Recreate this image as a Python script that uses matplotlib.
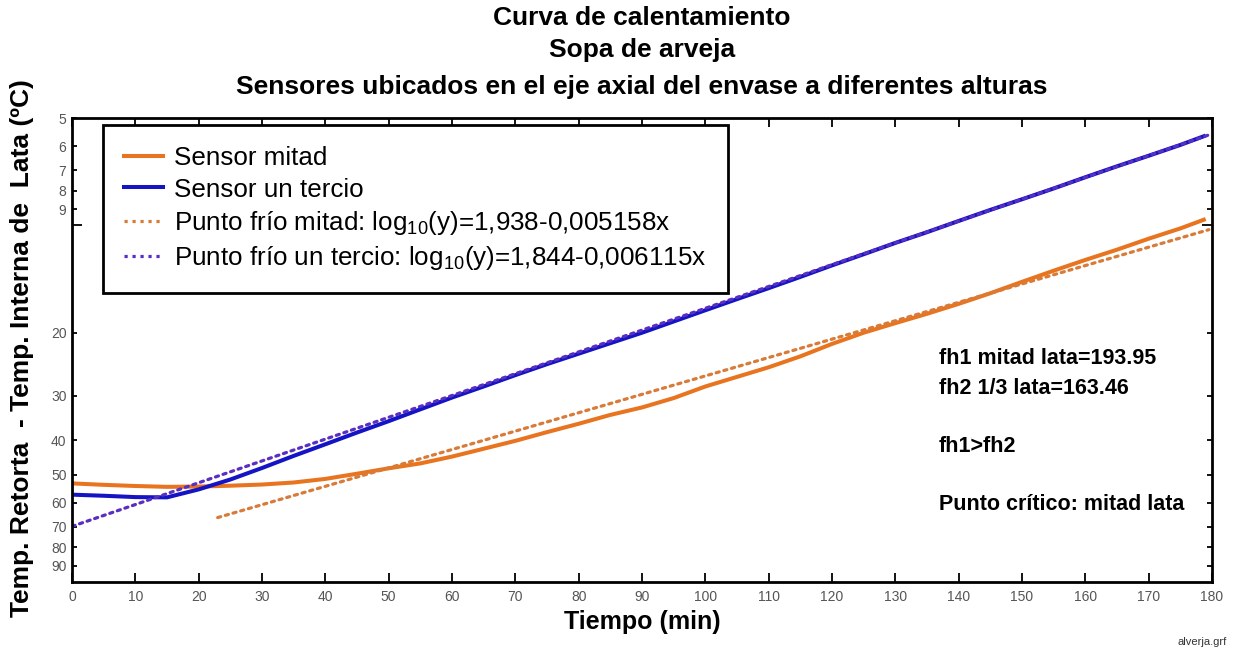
import numpy as np
import matplotlib
matplotlib.use("Agg")
import matplotlib.pyplot as plt
from matplotlib import font_manager
from matplotlib.lines import Line2D
from matplotlib.ticker import FixedLocator, FixedFormatter

# ---- data -------------------------------------------------------------
tiempo = [0, 5, 10, 15, 20, 25, 30, 35, 40, 45, 50, 55, 60, 65, 70, 75, 80,
          85, 90, 95, 100, 105, 110, 115, 120, 125, 130, 135, 140, 145, 150,
          155, 160, 165, 170, 175, 179]

# Temp. retorta - temp. interna (ºC), sensor at half height of the can
sensor_mitad = [52.9, 53.4, 53.8, 54.1, 54.0, 53.7, 53.3, 52.6, 51.4, 49.7,
                48.0, 46.5, 44.5, 42.3, 40.2, 38.0, 36.0, 34.0, 32.4, 30.5,
                28.3, 26.6, 25.0, 23.3, 21.5, 20.0, 18.8, 17.7, 16.6, 15.5,
                14.4, 13.4, 12.5, 11.7, 10.9, 10.2, 9.6]

# sensor at one third of the height
sensor_tercio = [56.9, 57.3, 57.8, 57.9, 55.0, 51.6, 47.9, 44.3, 41.1, 38.1,
                 35.4, 32.8, 30.4, 28.3, 26.3, 24.5, 22.9, 21.4, 20.0, 18.6,
                 17.3, 16.1, 15.0, 13.95, 12.95, 12.05, 11.2, 10.45, 9.72,
                 9.05, 8.45, 7.88, 7.33, 6.83, 6.38, 5.95, 5.6]

# regression on the straight part: log10(y) = a - b*x
fit_mitad = (1.938, 0.005158)
fit_tercio = (1.844, 0.006115)
rango_mitad = (23, 179.5)
rango_tercio = (0, 179.5)

x_ticks = list(range(0, 181, 10))
y_labels_ticks = [5, 6, 7, 8, 9, 20, 30, 40, 50, 60, 70, 80, 90]

titulo = ["Curva de calentamiento", "Sopa de arveja",
          "Sensores ubicados en el eje axial del envase a diferentes alturas"]
notas = ["fh1 mitad lata=193.95", "fh2 1/3 lata=163.46", "fh1>fh2",
         "Punto crítico: mitad lata"]

# ---- style ------------------------------------------------------------
names = {f.name for f in font_manager.fontManager.ttflist}
main_font = "Liberation Sans" if "Liberation Sans" in names else "DejaVu Sans"
tick_font = "Liberation Sans Narrow" if "Liberation Sans Narrow" in names else main_font

plt.rcParams["font.family"] = [main_font, "DejaVu Sans"]
plt.rcParams["mathtext.fontset"] = "custom"
plt.rcParams["mathtext.rm"] = main_font
plt.rcParams["mathtext.it"] = main_font + ":italic"
plt.rcParams["mathtext.bf"] = main_font + ":bold"

c_mitad = "#E8741F"
c_mitad_fit = "#D97B38"
c_tercio = "#1414C4"
c_tercio_fit = "#5A2EC2"

W, H = 1242, 654
fig = plt.figure(figsize=(W / 100, H / 100), dpi=100)
ax = fig.add_axes([72 / W, 1 - 582 / H, 1140 / W, 464 / H])

ax.plot(tiempo, sensor_mitad, color=c_mitad, lw=2.9, solid_capstyle="butt",
        label="Sensor mitad")
ax.plot(tiempo, sensor_tercio, color=c_tercio, lw=2.9, solid_capstyle="butt",
        label="Sensor un tercio")

for (a, b), (x0, x1), col in ((fit_mitad, rango_mitad, c_mitad_fit),
                              (fit_tercio, rango_tercio, c_tercio_fit)):
    xs = np.linspace(x0, x1, 50)
    ax.plot(xs, 10 ** (a - b * xs), color=col, lw=2.3,
            linestyle=(0, (1, 1.5)), dash_capstyle="round")

ax.set_yscale("log")
ax.set_xlim(0, 180)
ax.set_ylim(100, 5)

ax.xaxis.set_major_locator(FixedLocator(x_ticks))
ax.yaxis.set_major_locator(FixedLocator([10]))
ax.yaxis.set_major_formatter(FixedFormatter([""]))
ax.yaxis.set_minor_locator(FixedLocator(y_labels_ticks))
ax.yaxis.set_minor_formatter(FixedFormatter([str(v) for v in y_labels_ticks]))

for sp in ax.spines.values():
    sp.set_linewidth(2.0)
    sp.set_color("black")

ax.tick_params(axis="x", which="major", direction="in", length=6.5, width=1.3,
               top=True, labelsize=10, labelcolor="#555555", pad=6)
ax.tick_params(axis="y", which="major", direction="in", length=7.5, width=1.3,
               right=True)
ax.tick_params(axis="y", which="minor", direction="in", length=3.8, width=1.3,
               right=True, labelsize=10, labelcolor="#555555", pad=4)
for lab in ax.get_xticklabels() + ax.get_yticklabels(minor=True):
    lab.set_fontfamily(tick_font)

# legend
handles = [
    Line2D([], [], color=c_mitad, lw=2.9),
    Line2D([], [], color=c_tercio, lw=2.9),
    Line2D([], [], color=c_mitad_fit, lw=2.3, linestyle=(0, (1, 1.5))),
    Line2D([], [], color=c_tercio_fit, lw=2.3, linestyle=(0, (1, 1.5))),
]
labels = [
    "Sensor mitad",
    "Sensor un tercio",
    r"Punto frío mitad: log$_{10}$(y)=1,938-0,005158x",
    r"Punto frío un tercio: log$_{10}$(y)=1,844-0,006115x",
]
leg = ax.legend(handles, labels, loc="upper left",
                bbox_to_anchor=(31 / 1140, 1 - 7 / 464), borderaxespad=0,
                fontsize=18.7, handlelength=1.5, handletextpad=0.42,
                labelspacing=0.28, borderpad=0.82, fancybox=False,
                framealpha=1, edgecolor="black")
leg.get_frame().set_linewidth(2.0)

# titles and labels
for txt, yp in zip(titulo, (18, 50, 87)):
    fig.text(642 / W, 1 - yp / H, txt, ha="center", va="center",
             fontsize=19, fontweight="bold")

fig.text(22 / W, 1 - 348 / H, "Temp. Retorta  - Temp. Interna de  Lata (ºC)",
         rotation=90, ha="center", va="center", fontsize=19,
         fontweight="bold")
fig.text(642 / W, 1 - 622 / H, "Tiempo (min)", ha="center", va="center",
         fontsize=18, fontweight="bold")

for txt, yp in zip(notas, (359, 388, 447, 505)):
    fig.text(939 / W, 1 - yp / H, txt, ha="left", va="center",
             fontsize=15.5, fontweight="bold")

fig.text(1227 / W, 1 - 642 / H, "alverja.grf", ha="right", va="center",
         fontsize=8, fontfamily=tick_font, color="#333333")

fig.savefig("out.png", dpi=100, facecolor="white")
